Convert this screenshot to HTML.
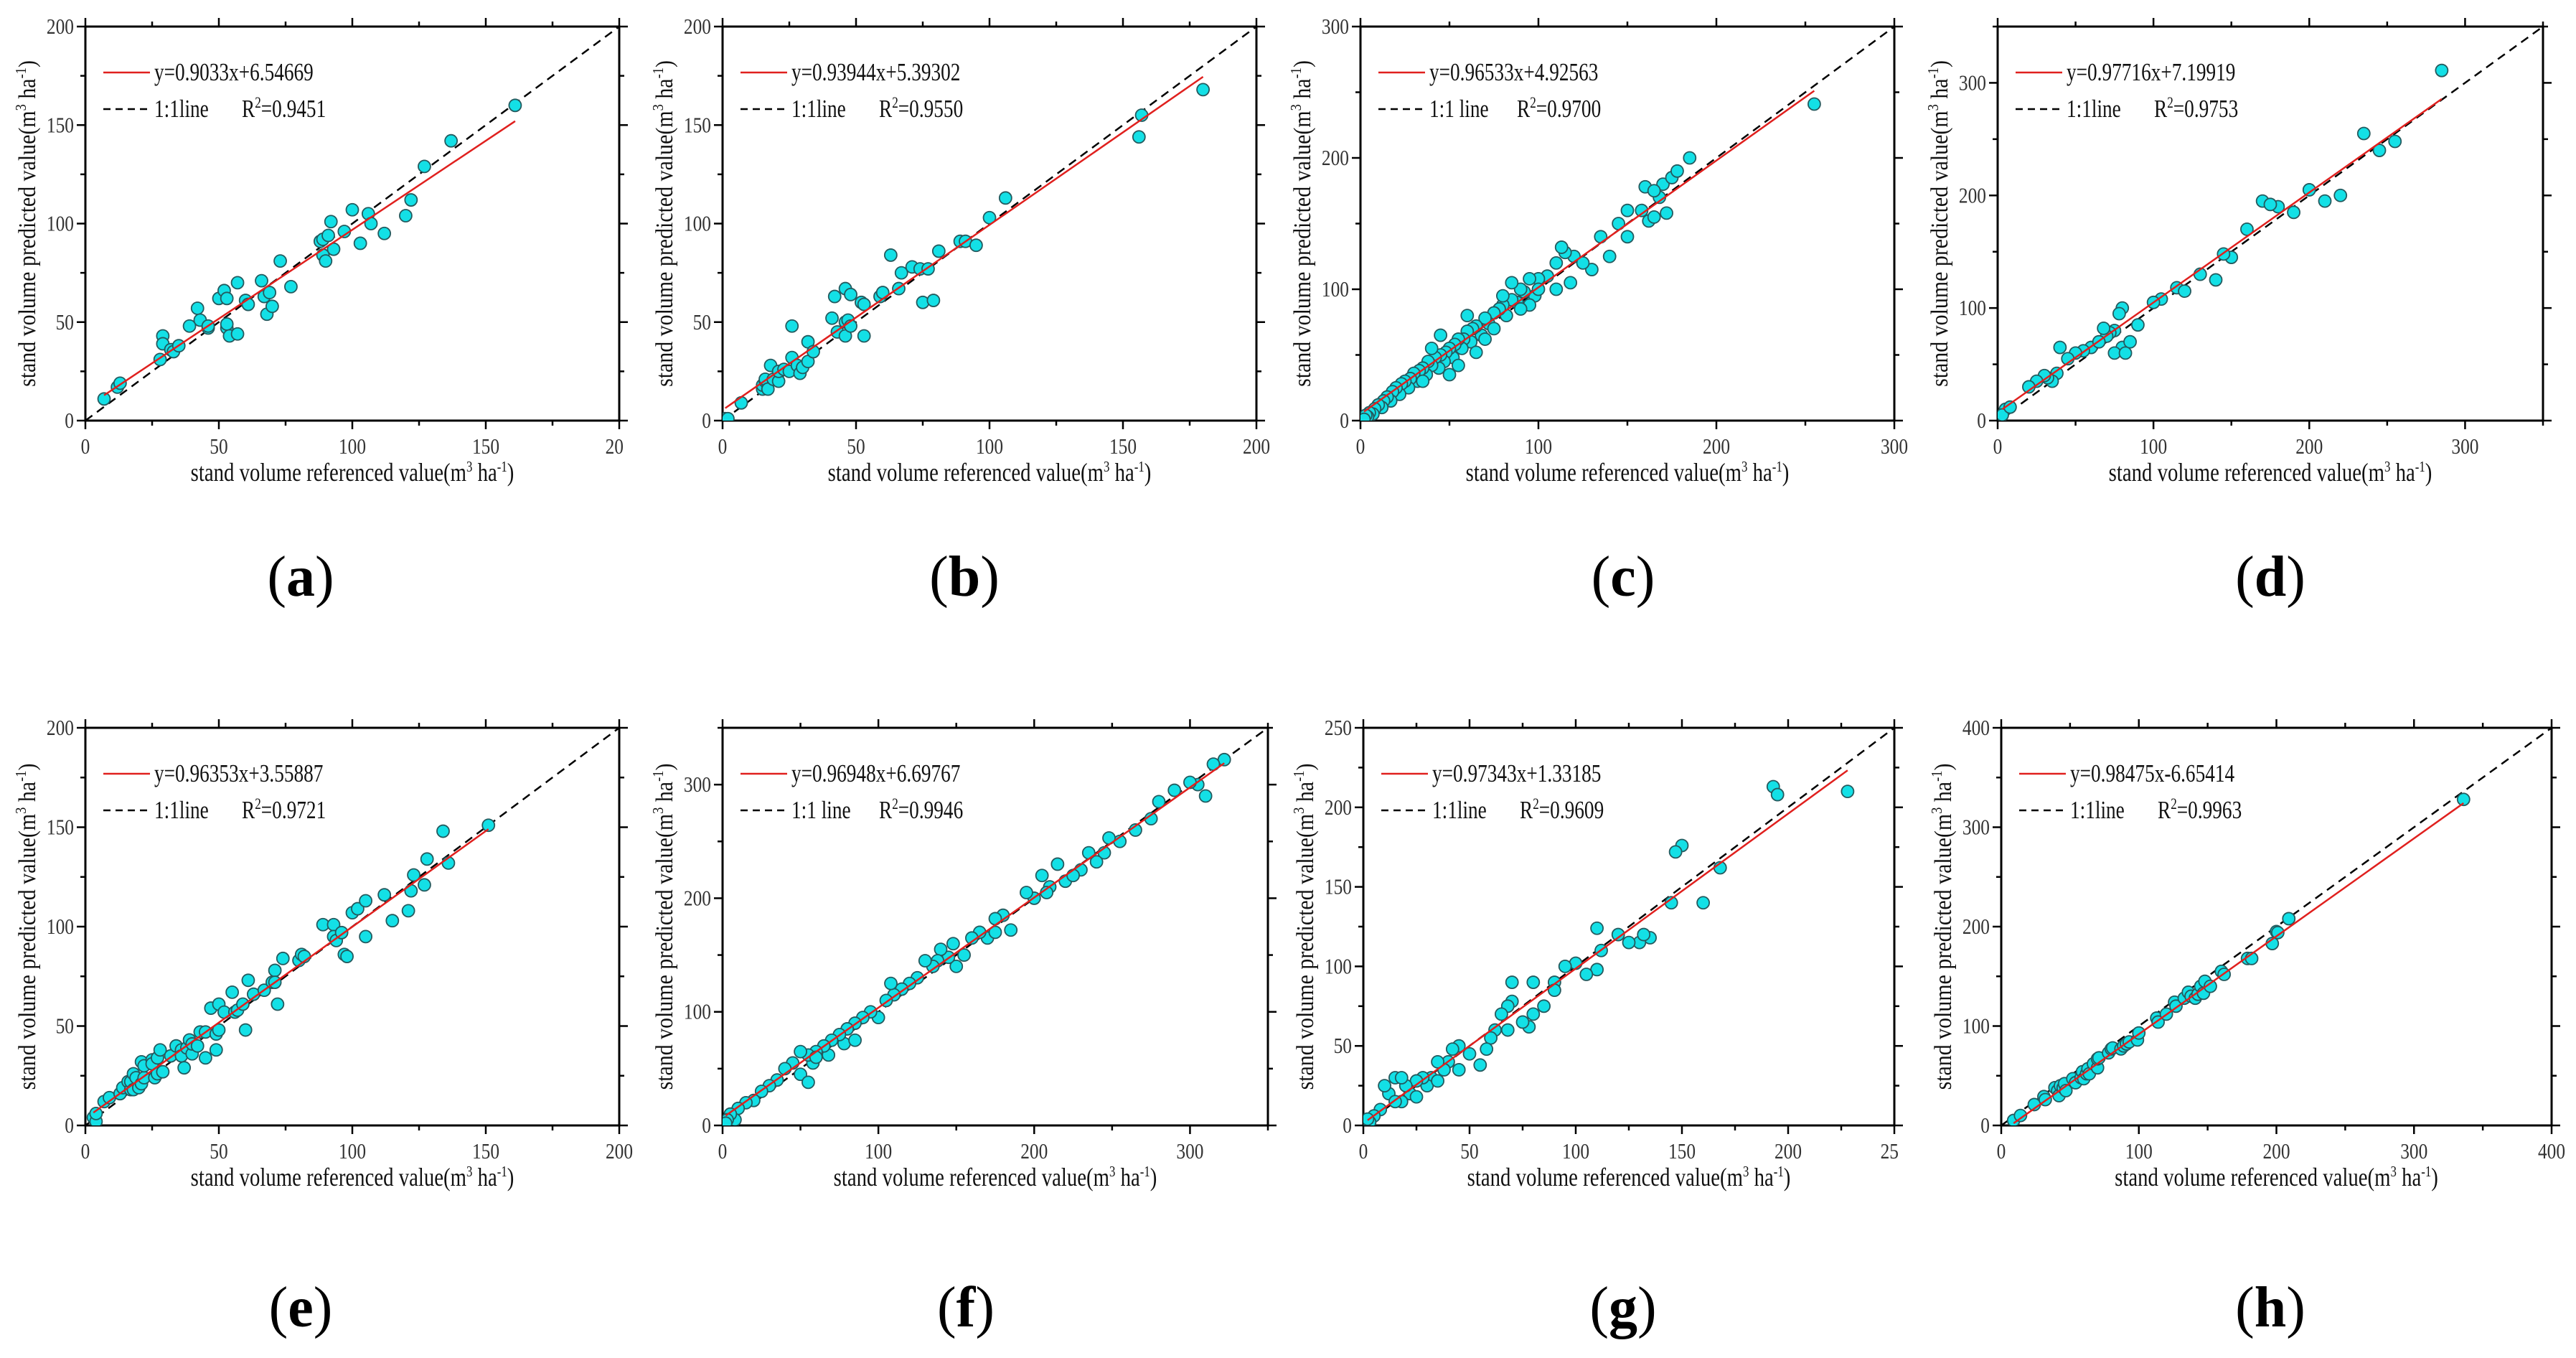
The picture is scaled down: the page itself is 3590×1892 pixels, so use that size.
<!DOCTYPE html>
<html><head><meta charset="utf-8"><style>
html,body{margin:0;padding:0;background:#fff;}
svg{display:block;}
text{font-family:"Liberation Serif",serif;}
</style></head><body>
<svg id="fig" width="3590" height="1892" viewBox="0 0 3590 1892" xmlns="http://www.w3.org/2000/svg"></svg>
<script>
// ---- data ----
const ptsA=[[7,11],[12,17],[13,19],[28,31],[29,43],[29,39],[32,36],[33,35],[35,38],[39,48],[42,57],[43,51],[46,47],[46,48],[50,62],[52,66],[53,62],[53,47],[53,49],[54,43],[57,70],[57,44],[60,61],[61,59],[66,71],[67,63],[68,54],[69,65],[70,58],[73,81],[77,68],[88,91],[89,92],[89,84],[90,81],[91,94],[92,101],[93,87],[97,96],[100,107],[103,90],[106,105],[107,100],[112,95],[120,104],[122,112],[127,129],[137,142],[161,160]];
const ptsB=[[1,1],[2,1],[7,9],[15,16],[15,18],[16,20],[16,21],[17,16],[18,28],[19,21],[21,20],[21,25],[23,26],[25,25],[26,48],[26,32],[28,28],[29,24],[30,27],[32,30],[32,40],[34,35],[41,52],[42,63],[43,45],[46,50],[46,43],[46,67],[47,51],[48,64],[48,48],[52,60],[53,59],[53,43],[59,63],[60,65],[63,84],[66,67],[67,75],[71,78],[74,77],[75,60],[77,77],[79,61],[81,86],[89,91],[91,91],[95,89],[100,103],[106,113],[156,144],[157,155],[180,168]];
const ptsC=[[160,178],[162,152],[165,155],[168,170],[170,180],[172,158],[175,185],[178,190],[185,200],[158,160],[150,140],[140,125],[135,140],[130,115],[120,125],[118,105],[115,128],[110,120],[105,110],[100,108],[98,95],[95,88],[92,98],[90,100],[88,90],[85,92],[82,80],[80,88],[78,85],[75,82],[72,74],[70,78],[68,65],[65,72],[63,70],[62,60],[60,68],[58,62],[57,55],[55,62],[53,58],[52,48],[50,55],[48,52],[47,45],[45,50],[44,40],[42,48],[40,42],[38,45],[37,35],[35,40],[33,38],[32,30],[30,36],[28,32],[27,25],[25,30],[23,28],[22,20],[20,25],[18,22],[17,15],[15,18],[13,15],[12,10],[10,12],[8,9],[7,5],[5,6],[4,3],[3,4],[2,1],[45,65],[40,55],[35,30],[50,35],[55,42],[60,80],[65,52],[70,62],[75,70],[80,95],[85,105],[90,85],[95,108],[100,100],[110,100],[113,132],[125,120],[145,150],[150,160],[165,175],[255,241]];
const ptsD=[[285,311],[235,255],[245,240],[255,248],[220,200],[210,195],[200,205],[180,190],[170,195],[175,192],[150,145],[145,148],[140,125],[130,130],[115,118],[105,108],[100,105],[80,100],[78,95],[75,80],[72,78],[70,75],[68,82],[80,65],[75,60],[85,70],[82,60],[60,65],[55,62],[50,60],[45,55],[40,65],[38,42],[35,35],[32,38],[30,40],[25,35],[20,30],[5,10],[3,5],[8,12],[65,70],[90,85],[120,115],[160,170],[190,185]];
const ptsE=[[3,4],[4,2],[4,6],[7,12],[9,14],[13,16],[14,19],[16,22],[17,18],[17,22],[18,26],[18,18],[19,24],[20,19],[21,21],[21,32],[22,24],[22,30],[25,33],[25,31],[26,24],[27,26],[27,34],[28,38],[29,27],[32,35],[34,40],[36,38],[36,35],[37,29],[38,39],[39,43],[40,36],[40,41],[42,40],[43,47],[45,47],[45,34],[47,59],[49,46],[49,38],[50,61],[50,48],[52,57],[55,67],[56,57],[57,58],[59,61],[60,48],[61,73],[63,66],[67,68],[70,72],[71,78],[71,72],[72,61],[74,84],[80,83],[81,86],[82,85],[89,101],[93,101],[93,95],[94,93],[96,97],[97,86],[98,85],[100,107],[102,109],[105,113],[105,95],[112,116],[115,103],[121,108],[122,118],[123,126],[127,121],[128,134],[134,148],[136,132],[151,151]];
const ptsF=[[322,322],[315,318],[305,300],[310,290],[300,302],[290,295],[280,285],[275,270],[255,250],[248,253],[245,240],[240,232],[235,240],[230,225],[220,215],[215,230],[210,210],[205,220],[208,205],[200,200],[185,172],[180,185],[175,182],[170,165],[165,170],[160,165],[155,150],[150,140],[148,160],[145,148],[140,155],[138,145],[135,140],[130,145],[125,130],[120,125],[115,120],[110,115],[108,125],[105,110],[100,95],[95,100],[90,95],[85,90],[80,85],[78,72],[75,80],[70,75],[68,62],[65,70],[60,65],[58,55],[55,62],[50,45],[45,55],[40,50],[35,40],[30,35],[25,30],[20,22],[15,20],[10,15],[8,5],[5,10],[3,5],[2,2],[50,65],[55,38],[60,60],[85,75],[175,170],[195,205],[225,220],[265,260]];
const ptsG=[[193,213],[195,208],[228,210],[150,176],[147,172],[160,140],[168,162],[145,140],[135,118],[130,115],[132,120],[125,115],[120,120],[110,124],[112,110],[110,98],[105,95],[100,102],[95,100],[90,90],[85,75],[80,90],[80,70],[78,62],[75,65],[70,90],[70,78],[68,75],[65,70],[62,60],[60,55],[58,48],[55,38],[50,45],[45,50],[42,48],[40,40],[38,35],[35,40],[32,30],[30,25],[28,30],[25,28],[22,20],[20,25],[18,15],[15,30],[12,20],[10,25],[8,10],[5,6],[3,2],[2,4],[45,35],[35,28],[25,18],[18,30],[15,15],[68,60],[90,85]];
const ptsH=[[9,5],[14,10],[24,21],[31,29],[32,26],[39,38],[41,35],[42,30],[43,40],[45,38],[46,42],[47,35],[52,47],[54,43],[58,48],[59,54],[60,47],[62,52],[63,57],[64,52],[67,62],[70,58],[70,67],[71,68],[78,73],[80,77],[81,78],[87,77],[89,80],[91,82],[93,84],[99,86],[100,93],[113,108],[114,104],[120,112],[126,124],[127,120],[133,128],[136,134],[138,130],[141,128],[143,132],[145,140],[147,133],[148,145],[152,140],[160,155],[162,152],[179,168],[182,168],[197,183],[200,195],[201,194],[209,208],[336,328]];
const slopes=[0.9033,0.93944,0.96533,0.97716,0.96353,0.96948,0.97343,0.98475];
const intercepts=[6.54669,5.39302,4.92563,7.19919,3.55887,6.69767,1.33185,-6.65414];
const eqLabels=["y=0.9033x+6.54669","y=0.93944x+5.39302","y=0.96533x+4.92563","y=0.97716x+7.19919","y=0.96353x+3.55887","y=0.96948x+6.69767","y=0.97343x+1.33185","y=0.98475x-6.65414"];
const r2Labels=["0.9451","0.9550","0.9700","0.9753","0.9721","0.9946","0.9609","0.9963"];
const lineLabels=["1:1line","1:1line","1:1 line","1:1line","1:1line","1:1 line","1:1line","1:1line"];
const axisMax=[200,200,300,350,200,350,250,400];
const tickSteps=[50,50,100,100,50,100,50,100];
const lastXTickText=["20",null,null,null,null,null,"25",null];
const panelLetters=["a","b","c","d","e","f","g","h"];
const allPts=[ptsA,ptsB,ptsC,ptsD,ptsE,ptsF,ptsG,ptsH];

// ---- layout ----
const boxes=[
 {L:119,R:863,T:37,B:586},{L:1007,R:1751,T:37,B:586},{L:1896,R:2640,T:37,B:586},{L:2784,R:3544,T:37,B:586},
 {L:119,R:863,T:1014,B:1568},{L:1007,R:1767,T:1014,B:1568},{L:1900,R:2640,T:1014,B:1568},{L:2789,R:3556,T:1014,B:1568}];
const letterX=[419,1344,2262,3164,419,1346,2262,3164];
const letterY=[830,830,830,830,1848,1848,1848,1848];

const NS="http://www.w3.org/2000/svg";
const svg=document.getElementById('fig');
function mk(tag,attrs,parent){const e=document.createElementNS(NS,tag);for(const k in attrs)e.setAttribute(k,attrs[k]);(parent||svg).appendChild(e);return e;}
function ctext(parent,x,y,size,anchor,sx,rot){
  const t=mk('text',{x:0,y:0,'font-size':size,'text-anchor':anchor,fill:'#111',
    transform:'translate('+x+','+y+')'+(rot?' rotate('+rot+')':'')+' scale('+sx+',1)'},parent);
  return t;
}
const SUP='<tspan dy="-13" font-size="21">3</tspan><tspan dy="13"> ha</tspan><tspan dy="-13" font-size="21">-1</tspan><tspan dy="13">)</tspan>';

boxes.forEach((b,i)=>{
  const g=mk('g',{});
  
  
  const max=axisMax[i];
  const sx=v=>b.L+(b.R-b.L)*v/max;
  const sy=v=>b.B-(b.B-b.T)*v/max;
  const clipId='clip'+i;
  const cp=mk('clipPath',{id:clipId},g);
  mk('rect',{x:b.L,y:b.T,width:b.R-b.L,height:b.B-b.T},cp);
  const fr=mk('rect',{x:b.L,y:b.T,width:b.R-b.L,height:b.B-b.T,fill:'none',stroke:'#000','stroke-width':3},g);
  
  
  const step=tickSteps[i];
  for(let v=0;v<=max+0.001;v+=step/2){
    const major=Math.abs(v/step-Math.round(v/step))<1e-6;
    const len=major?12:7;
    const x=sx(v),y=sy(v);
    mk('line',{x1:x,y1:b.B,x2:x,y2:b.B+len,stroke:'#000','stroke-width':2.5},g);
    mk('line',{x1:x,y1:b.T,x2:x,y2:b.T-len,stroke:'#000','stroke-width':2.5},g);
    mk('line',{x1:b.L,y1:y,x2:b.L-len,y2:y,stroke:'#000','stroke-width':2.5},g);
    mk('line',{x1:b.R,y1:y,x2:b.R+len,y2:y,stroke:'#000','stroke-width':2.5},g);
    if(major){
      const isLast=Math.abs(v-max)<1e-6;
      let lbl=String(Math.round(v));
      let xa='middle',xx=x;
      if(isLast&&lastXTickText[i]){lbl=lastXTickText[i];xa='end';xx=x+6;}
      const xt=ctext(g,xx,b.B+46,31,xa,0.82);
      xt.setAttribute('fill','#333');
      
      
      xt.textContent=lbl;
      const yt=ctext(g,b.L-16,y+10,31,'end',0.82);
      yt.setAttribute('fill','#333');
      
      
      yt.textContent=String(Math.round(v));
    }
  }
  const one=mk('line',{x1:sx(0),y1:sy(0),x2:sx(max),y2:sy(max),stroke:'#000','stroke-width':2.5,'stroke-dasharray':'12,8','clip-path':'url(#'+clipId+')'},g);
  
  
  const pts=allPts[i];
  const pg=mk('g',{'clip-path':'url(#'+clipId+')'},g);
  pts.forEach(p=>{
    const c=mk('circle',{cx:sx(p[0]),cy:sy(p[1]),r:8.5,fill:'#13e0e6',stroke:'#245a5e','stroke-width':1.8},pg);
    
    
  });
  let xmin=Infinity,xmax=-Infinity;pts.forEach(p=>{xmin=Math.min(xmin,p[0]);xmax=Math.max(xmax,p[0]);});
  const fl=mk('line',{x1:sx(xmin),y1:sy(slopes[i]*xmin+intercepts[i]),x2:sx(xmax),y2:sy(slopes[i]*xmax+intercepts[i]),stroke:'#e0201e','stroke-width':2.5,'clip-path':'url(#'+clipId+')'},g);
  
  
  const lg=mk('g',{},g);
  
  
  const ly1=b.T+64,ly2=b.T+115;
  mk('line',{x1:b.L+25,y1:ly1,x2:b.L+90,y2:ly1,stroke:'#e0201e','stroke-width':2.5},lg);
  const t1=ctext(lg,b.L+96,ly1+11,35,'start',0.78);
  
  
  t1.textContent=eqLabels[i];
  mk('line',{x1:b.L+25,y1:ly2,x2:b.L+90,y2:ly2,stroke:'#000','stroke-width':2.5,'stroke-dasharray':'10,7'},lg);
  const t2=ctext(lg,b.L+96,ly2+11,35,'start',0.78);
  
  
  t2.textContent=lineLabels[i];
  const t3=ctext(lg,b.L+218,ly2+11,35,'start',0.78);
  
  
  t3.innerHTML='R<tspan dy="-13" font-size="22">2</tspan><tspan dy="13">='+r2Labels[i]+'</tspan>';
  const xt=ctext(g,(b.L+b.R)/2,b.B+84,36,'middle',0.8);
  
  
  xt.innerHTML='stand volume referenced value(m'+SUP;
  const yt=ctext(g,b.L-70,(b.T+b.B)/2,34,'middle',0.88,-90);
  
  
  yt.innerHTML='stand volume predicted value(m'+SUP;
  const pl=mk('text',{x:letterX[i],y:letterY[i],'text-anchor':'middle','font-size':80,fill:'#000'},svg);
  
  
  pl.innerHTML='(<tspan font-weight="bold">'+panelLetters[i]+'</tspan>)';
});
</script>
</body></html>
